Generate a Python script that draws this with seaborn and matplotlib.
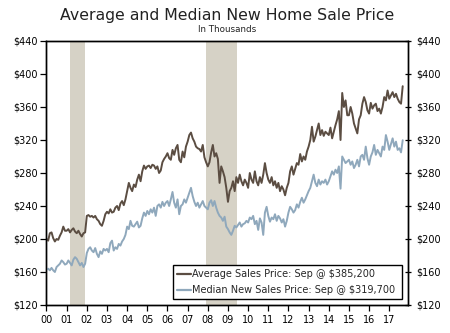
import numpy as np
import pandas as pd
import matplotlib
matplotlib.use("Agg")
import matplotlib.pyplot as plt
import seaborn as sns

# ---- data (thousands of dollars, monthly Jan 2000 - Sep 2017) ----
avg_2000 = [200, 198, 207, 208, 201, 197, 200, 199, 204, 208, 215, 210]
avg_2001 = [210, 212, 208, 211, 213, 209, 207, 210, 206, 203, 207, 208]
avg_2002 = [228, 229, 227, 228, 226, 228, 224, 222, 218, 216, 222, 230]
avg_2003 = [233, 231, 236, 232, 233, 238, 240, 235, 243, 246, 241, 248]
avg_2004 = [258, 268, 262, 258, 266, 263, 272, 278, 270, 282, 289, 285]
avg_2005 = [288, 289, 286, 290, 289, 285, 288, 280, 283, 293, 297, 300]
avg_2006 = [304, 298, 296, 308, 302, 310, 314, 296, 293, 306, 299, 312]
avg_2007 = [318, 326, 329, 322, 318, 312, 310, 309, 306, 314, 299, 293]
avg_2008 = [288, 293, 305, 314, 300, 304, 297, 268, 288, 282, 275, 262]
avg_2009 = [245, 258, 262, 270, 258, 275, 268, 278, 270, 265, 272, 268]
avg_2010 = [262, 280, 272, 268, 282, 270, 265, 275, 268, 278, 292, 280]
avg_2011 = [272, 268, 275, 265, 270, 262, 268, 258, 264, 260, 253, 262]
avg_2012 = [268, 282, 288, 278, 285, 292, 290, 303, 294, 300, 296, 306]
avg_2013 = [312, 320, 336, 318, 324, 332, 340, 326, 332, 325, 330, 328]
avg_2014 = [326, 335, 322, 330, 338, 345, 355, 320, 377, 360, 368, 350]
avg_2015 = [350, 360, 352, 340, 334, 328, 345, 350, 364, 372, 366, 356]
avg_2016 = [352, 365, 358, 362, 364, 355, 358, 352, 360, 372, 368, 380]
avg_2017 = [370, 374, 378, 372, 376, 370, 366, 364, 385.2]

med_2000 = [163, 164, 162, 165, 162, 160, 166, 168, 170, 174, 172, 169]
med_2001 = [170, 174, 171, 168, 175, 178, 176, 172, 168, 171, 166, 170]
med_2002 = [183, 188, 190, 186, 184, 189, 182, 178, 185, 182, 188, 186]
med_2003 = [188, 184, 195, 198, 186, 190, 188, 194, 192, 197, 200, 205]
med_2004 = [215, 212, 222, 216, 215, 218, 221, 214, 216, 225, 232, 228]
med_2005 = [234, 230, 236, 232, 238, 228, 240, 242, 238, 245, 240, 244]
med_2006 = [246, 240, 248, 257, 244, 238, 248, 230, 240, 242, 248, 244]
med_2007 = [250, 256, 262, 252, 245, 240, 244, 238, 242, 246, 240, 238]
med_2008 = [236, 244, 247, 240, 246, 238, 232, 228, 226, 222, 227, 215]
med_2009 = [212, 208, 205, 210, 216, 214, 217, 220, 215, 218, 219, 222]
med_2010 = [220, 226, 224, 228, 218, 222, 211, 225, 220, 205, 232, 239]
med_2011 = [228, 221, 226, 224, 230, 222, 228, 225, 220, 224, 215, 222]
med_2012 = [232, 239, 236, 232, 235, 242, 238, 245, 250, 244, 248, 253]
med_2013 = [258, 262, 270, 278, 268, 264, 272, 266, 270, 268, 272, 266]
med_2014 = [270, 276, 282, 278, 284, 280, 288, 261, 300, 296, 292, 294]
med_2015 = [296, 290, 294, 286, 290, 296, 288, 300, 302, 296, 312, 298]
med_2016 = [290, 300, 305, 314, 302, 308, 304, 300, 312, 308, 326, 318]
med_2017 = [308, 315, 322, 312, 318, 308, 310, 305, 319.7]

avg_label = "Average Sales Price: Sep @ $385,200"
med_label = "Median New Sales Price: Sep @ $319,700"
year_labels = ["00", "01", "02", "03", "04", "05", "06", "07", "08",
               "09", "10", "11", "12", "13", "14", "15", "16", "17"]
y_ticks = [120, 160, 200, 240, 280, 320, 360, 400, 440]
recessions = [(2001 + 2 / 12, 2001 + 10.8 / 12), (2007 + 10.9 / 12, 2009 + 5.5 / 12)]

avg = sum([avg_2000, avg_2001, avg_2002, avg_2003, avg_2004, avg_2005, avg_2006,
           avg_2007, avg_2008, avg_2009, avg_2010, avg_2011, avg_2012, avg_2013,
           avg_2014, avg_2015, avg_2016, avg_2017], [])
med = sum([med_2000, med_2001, med_2002, med_2003, med_2004, med_2005, med_2006,
           med_2007, med_2008, med_2009, med_2010, med_2011, med_2012, med_2013,
           med_2014, med_2015, med_2016, med_2017], [])

t = 2000 + np.arange(len(avg)) / 12.0
df = pd.DataFrame({"t": np.concatenate([t, t]),
                   "value": avg + med,
                   "series": [avg_label] * len(avg) + [med_label] * len(med)})

sns.set_theme(style="ticks")
plt.rcParams["font.family"] = ["DejaVu Sans"]

fig = plt.figure(figsize=(4.5, 3.33), dpi=100)
ax = fig.add_axes([0.1033, 0.0841, 0.8034, 0.7928])

for a, b in recessions:
    ax.axvspan(a, b, color="#D6D2C6", lw=0, zorder=0)

sns.lineplot(data=df, x="t", y="value", hue="series",
             palette={avg_label: "#5B4D42", med_label: "#8FA8BC"},
             linewidth=1.4, ax=ax, zorder=3)

ax.set_xlim(2000, 2017.93)
ax.set_ylim(120, 440)
ax.set_xticks(range(2000, 2018))
ax.set_xticklabels(year_labels)
ax.set_yticks(y_ticks)
ax.set_yticklabels([f"${v}" for v in y_ticks])
ax.set_xlabel("")
ax.set_ylabel("")

for s in ["left", "right", "bottom", "top"]:
    ax.spines[s].set_linewidth(1.0)
    ax.spines[s].set_color("black")

ax.tick_params(axis="both", labelsize=7, colors="black", length=4, width=0.9, pad=2)
ax.tick_params(axis="x", pad=3)

# right axis mirror
ax2 = ax.twinx()
ax2.set_ylim(120, 440)
ax2.set_yticks(y_ticks)
ax2.set_yticklabels([f"${v}" for v in y_ticks])
ax2.tick_params(axis="y", labelsize=7, colors="black", length=4, width=0.9,
                direction="inout", pad=4)
for s in ["left", "right", "bottom", "top"]:
    ax2.spines[s].set_linewidth(1.0)
    ax2.spines[s].set_color("black")

leg = ax.legend(loc="lower left", bbox_to_anchor=(0.35, 0.022, 0.633, 0.155),
                mode="expand", fontsize=7, frameon=True, fancybox=False,
                handlelength=1.5, handletextpad=0.1, borderpad=0.4,
                labelspacing=0.65, borderaxespad=0, title=None)
leg.get_frame().set_edgecolor("black")
leg.get_frame().set_linewidth(1.0)
leg.get_frame().set_alpha(1)
for line in leg.get_lines():
    line.set_linewidth(1.6)

fig.text(0.505, 0.953, "Average and Median New Home Sale Price", ha="center",
         va="center", fontsize=11.3, color="#222222")
fig.text(0.505, 0.912, "In Thousands", ha="center", va="center",
         fontsize=6.3, color="#222222")

fig.savefig("out.png", dpi=100)
